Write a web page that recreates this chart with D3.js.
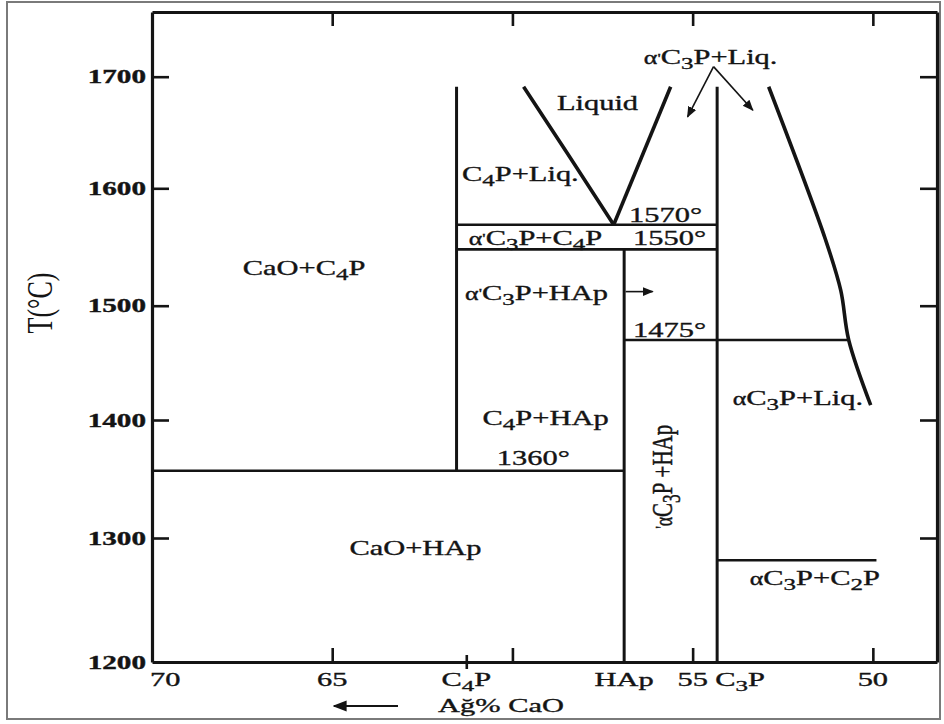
<!DOCTYPE html>
<html>
<head>
<meta charset="utf-8">
<script src="https://cdnjs.cloudflare.com/ajax/libs/d3/7.8.5/d3.min.js"></script>
<style>
body{margin:0;background:#fff;}
svg{display:block;}
text{font-family:"Liberation Serif","Times New Roman",serif;fill:#141414;}
</style>
</head>
<body>
<svg id="chart" width="944" height="724"></svg>
<script>
// temperature axis (deg C)
var tempTicks = [1200,1300,1400,1500,1600,1700];
var tempTop = 1758;

// composition axis (wt% CaO), reversed
var compTicks = [70,65,61.28,60,56.9,55,54.32,50];
var compTickLabels = ["70","65","C_4P","","HAp","55","C_3P","50"];
var compTopTicks = [65,60,55,50];

// compounds: vertical lines [composition, T from, T to]
var compounds = [[61.55,1357,1691],[56.9,1200,1548],[54.32,1200,1691]];

// invariant lines [T, comp from, comp to]
var isotherms = [[1357,70,56.9],[1548,61.55,54.32],[1569,61.55,54.32],[1470,56.9,50.67],[1282,54.32,49.9]];

// liquidus curves [comp, T]
var liqC4P = [[59.69,1691],[58.45,1630],[57.19,1569]];
var liqEut = [[57.19,1569],[55.61,1691]];
var liqC3P = [[52.89,1691],[51.31,1556],[50.89,1513],[50.67,1470],[50.06,1413]];

// field labels [text, comp, T]
var fieldLabels = [
  ["α'C_3P+Liq.",54.5,1711],
  ["Liquid",57.64,1670],
  ["C_4P+Liq.",59.78,1606.5],
  ["1570°",55.75,1571],
  ["α'C_3P+C_4P",59.36,1551.7],
  ["1550°",55.64,1551.7],
  ["CaO+C_4P",65.78,1526],
  ["α'C_3P+HAp",59.33,1505],
  ["1475°",55.64,1472.6],
  ["αC_3P+Liq.",52.08,1413],
  ["C_4P+HAp",59.08,1395.8],
  ["1360°",59.42,1361.9],
  ["CaO+HAp",62.69,1286.3],
  ["αC_3P+C_2P",51.61,1262]
];
var verticalLabel = ["'αC_3P +HAp",55.56,1352];

// pointer arrows [[comp,T],[comp,T]]
var pointers = [
  [[54.42,1709],[55.14,1664]],
  [[54.42,1709],[53.33,1670]],
  [[56.86,1512],[56.11,1512]]
];

var svg = d3.select("#chart");
var SX = 1.45;

var x = d3.scaleLinear().domain([70,48.22]).range([152,937]);
var y = d3.scaleLinear()
  .domain([1200,1300,1400,1500,1600,1700,tempTop])
  .range([662,538,420,305.7,188.3,76.7,12]);

// outer frame
svg.append("rect").attr("x",7).attr("y",2).attr("width",933).attr("height",717)
  .attr("fill","none").attr("stroke","#7a7a7a").attr("stroke-width",2);

var defs = svg.append("defs");
defs.append("marker").attr("id","head")
  .attr("viewBox","0 0 10 10").attr("refX",9).attr("refY",5)
  .attr("markerWidth",7).attr("markerHeight",7).attr("orient","auto")
  .append("path").attr("d","M0,1 L10,5 L0,9 Z").attr("fill","#141414");

// rich text: "_" = subscript next char
function rich(textSel, s, fs){
  var sub = false, shift = fs*0.24, pend = 0;
  function add(c, size, dy){
    var ts = textSel.append("tspan").text(c);
    if (size) ts.style("font-size",size+"px");
    if (dy + pend) ts.attr("dy", dy + pend);
    pend = 0;
    return ts;
  }
  for (var i=0;i<s.length;i++){
    var c = s[i];
    if (c=="_"){ sub = true; continue; }
    if (sub){
      add(c, fs*0.82, shift); pend = -shift;
      sub = false;
    } else if (c=="'"){
      add("'", fs*0.6, -fs*0.12); pend = fs*0.12;
    } else if (c=="α"){
      add(c, fs*0.85, 0);
    } else {
      add(c, null, 0);
    }
  }
}

function label(px, py, s, fs, sx, rot, anchor, weight){
  var g = svg.append("g").attr("transform","translate("+px+","+py+") scale("+sx+",1)"+(rot?" rotate(-90)":""));
  var t = g.append("text").attr("text-anchor",anchor||"middle")
    .style("font-size",fs+"px").style("font-weight",weight||"normal")
    .attr("stroke","#141414").attr("stroke-width",0.35);
  rich(t, s, fs);
  return g;
}

// axes
var ax = svg.append("g").attr("class","axes");
ax.append("g").attr("transform","translate("+x(70)+",0)")
  .call(d3.axisLeft(y).tickValues(tempTicks.slice(1)).tickSize(-17).tickSizeOuter(0).tickFormat(""));
ax.append("g").attr("transform","translate("+x.range()[1]+",0)")
  .call(d3.axisRight(y).tickValues(tempTicks.slice(1)).tickSize(-17).tickSizeOuter(0).tickFormat(""));
ax.append("g").attr("transform","translate(0,"+y(tempTop)+")")
  .call(d3.axisTop(x).tickValues(compTopTicks).tickSize(-14).tickSizeOuter(0).tickFormat(""));
var bx = ax.append("g").attr("transform","translate(0,"+y(1200)+")")
  .call(d3.axisBottom(x).tickValues(compTicks).tickSize(-14).tickSizeOuter(0).tickFormat(""));
bx.selectAll(".tick line").each(function(d,i){
  var l = d3.select(this);
  if (compTickLabels[i]=="70" || compTickLabels[i]=="HAp" || compTickLabels[i]=="C_3P") l.remove();
  else if (compTickLabels[i]=="C_4P") l.attr("y1",-7).attr("y2",7);
});
ax.selectAll(".domain").attr("stroke","#141414").attr("stroke-width",3.2);
ax.selectAll(".tick line").attr("stroke","#141414").attr("stroke-width",2.6);

// tick labels
tempTicks.forEach(function(t){
  label(x(70)-6, y(t)+6.5, String(t), 18, 1.62, false, "end", "bold");
});
compTicks.forEach(function(c,i){
  if (!compTickLabels[i]) return;
  var start = (compTickLabels[i]=="70" || compTickLabels[i]=="C_3P");
  label(x(c)-(start?2:0), y(1200)+24, compTickLabels[i], 19, 1.6, false, start?"start":"middle");
});

// axis titles
label(52, 303, "T(°C)", 26, 1.35, true, "middle").select("text").attr("stroke-width",0);
label(501, 712, "Ağ% CaO", 19, 1.6, false, "middle");
svg.append("line").attr("x1",398).attr("y1",706).attr("x2",334).attr("y2",706)
  .attr("stroke","#141414").attr("stroke-width",2).attr("marker-end","url(#head)");

// phase boundaries
var lines = svg.append("g").attr("stroke","#141414").attr("fill","none");
lines.selectAll("line.v").data(compounds).enter().append("line").attr("class","v")
  .attr("x1",function(d){return x(d[0]);}).attr("x2",function(d){return x(d[0]);})
  .attr("y1",function(d){return y(d[1]);}).attr("y2",function(d){return y(d[2]);})
  .attr("stroke-width",3);
lines.selectAll("line.h").data(isotherms).enter().append("line").attr("class","h")
  .attr("x1",function(d){return x(d[1]);}).attr("x2",function(d){return x(d[2]);})
  .attr("y1",function(d){return y(d[0]);}).attr("y2",function(d){return y(d[0]);})
  .attr("stroke-width",2.6);

var curve = d3.line().x(function(d){return x(d[0]);}).y(function(d){return y(d[1]);});
lines.append("path").attr("d",curve(liqC4P)).attr("stroke-width",3.6);
lines.append("path").attr("d",curve(liqEut)).attr("stroke-width",3.6);
lines.append("path").attr("d",curve.curve(d3.curveCatmullRom)(liqC3P)).attr("stroke-width",3.6);

lines.selectAll("line.p").data(pointers).enter().append("line").attr("class","p")
  .attr("x1",function(d){return x(d[0][0]);}).attr("y1",function(d){return y(d[0][1]);})
  .attr("x2",function(d){return x(d[1][0]);}).attr("y2",function(d){return y(d[1][1]);})
  .attr("stroke-width",1.6).attr("marker-end","url(#head)");

// field labels
fieldLabels.forEach(function(f){
  label(x(f[1]), y(f[2]), f[0], 21, SX, false, "middle");
});
label(x(verticalLabel[1]), y(verticalLabel[2]), verticalLabel[0], 21, SX, true, "middle");
</script>
</body>
</html>
